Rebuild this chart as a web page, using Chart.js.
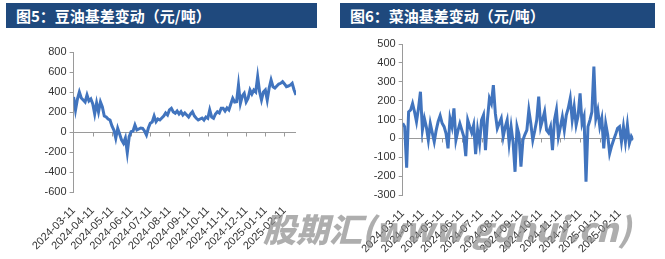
<!DOCTYPE html>
<html>
<head>
<meta charset="utf-8">
<script src="https://cdn.jsdelivr.net/npm/chart.js@4.4.1/dist/chart.umd.min.js"></script>
<style>
  body { margin: 0; width: 665px; height: 259px; background: #fff; position: relative; overflow: hidden; }
  .bar {
    position: absolute; top: 3px; height: 25px; background: #1F497D; color: #fff;
    font: bold 15px "Noto Sans CJK SC", sans-serif; line-height: 25px;
    padding-left: 10px; box-sizing: border-box; white-space: nowrap;
  }
  .panel { position: absolute; top: 0; width: 330px; height: 259px; }
  .wm {
    position: absolute; left: 263px; top: 204px; pointer-events: none;
    font: italic 900 33px "Noto Sans CJK SC", sans-serif; color: rgba(140,140,140,0.7);
    white-space: nowrap;
  }
</style>
</head>
<body>
<div class="panel" style="left:0"><canvas id="soy" width="330" height="259"></canvas></div>
<div class="panel" style="left:335px"><canvas id="rape" width="330" height="259"></canvas></div>
<div class="bar" style="left:6px;width:311px">图5：豆油基差变动（元/吨）</div>
<div class="bar" style="left:340px;width:315px">图6：菜油基差变动（元/吨）</div>
<div class="wm">股期汇(www.gqhui.cn)</div>

<script>
// month tick labels, one every 10 points
const tickLabels = ["2024-03-11","2024-04-11","2024-05-11","2024-06-11","2024-07-11","2024-08-11",
  "2024-09-11","2024-10-11","2024-11-11","2024-12-11","2025-01-11","2025-02-11"];
const pointsPerMonth = 10;

// 豆油基差
const soyValues = [350,220,330,400,340,320,300,370,310,330,
  280,180,290,200,300,250,160,150,130,120,
  60,20,-63,37,-20,-80,-113,-60,-207,-47,
  3,10,70,20,30,40,37,10,-30,40,
  87,100,160,103,130,120,140,160,190,170,
  220,237,200,187,210,180,203,170,190,170,
  150,180,203,160,137,120,130,140,120,150,
  137,220,150,137,180,203,190,237,237,210,
  240,220,280,337,300,303,470,287,360,387,
  300,337,420,380,420,400,553,403,320,400,
  420,320,440,520,453,440,460,480,487,503,
  480,453,460,470,487,420,370];

// 菜油基差
const rapeValues = [80,62,-155,140,150,185,141,88,159,247,
  44,106,60,-9,79,30,-18,44,90,120,
  80,62,26,-53,106,62,159,-9,40,79,
  44,10,-94,97,62,30,71,-83,44,-26,
  97,124,-62,100,212,185,282,132,53,80,
  106,9,60,97,-26,62,-20,-177,62,20,
  -150,-9,20,44,150,79,-9,40,97,221,
  62,100,141,44,30,62,-62,97,150,9,
  60,114,44,124,160,212,97,168,71,120,
  238,79,115,-230,62,97,141,380,106,150,
  62,106,-53,79,20,-80,-40,-9,20,53,
  62,-18,62,-18,71,-26,10,-9];

const soyAxis = { min: -600, max: 800, step: 200 };
const rapeAxis = { min: -300, max: 500, step: 100 };

const lineColor = "#4174BE";
const axisColor = "#9a9a9a";
const labelFont = { family: "Liberation Sans", size: 11 };

// zero line with tick marks, drawn under the series
const zeroAxis = {
  id: "zeroAxis",
  beforeDatasetsDraw(chart) {
    const { ctx, chartArea, scales } = chart;
    const y0 = Math.round(scales.y.getPixelForValue(0)) + 0.5;
    ctx.save();
    ctx.strokeStyle = axisColor;
    ctx.lineWidth = 1;
    ctx.beginPath();
    ctx.moveTo(chartArea.left, y0);
    ctx.lineTo(chartArea.right, y0);
    for (let k = 1; k < tickLabels.length; k++) {
      const x = Math.round(scales.x.getPixelForValue(k)) + 0.5;
      ctx.moveTo(x, y0);
      ctx.lineTo(x, y0 + 4);
    }
    ctx.stroke();
    ctx.restore();
  }
};

function makeChart(id, values, axis, box) {
  new Chart(document.getElementById(id), {
    type: "line",
    data: {
      datasets: [{
        data: values.map((v, i) => ({ x: i / pointsPerMonth, y: v })),
        borderColor: lineColor,
        borderWidth: 3,
        pointRadius: 0,
        tension: 0
      }]
    },
    options: {
      responsive: false,
      animation: false,
      layout: { padding: { top: box.top, right: box.right, bottom: 0, left: 0 } },
      plugins: { legend: { display: false }, tooltip: { enabled: false } },
      scales: {
        x: {
          type: "linear",
          min: 0,
          max: (values.length - 1) / pointsPerMonth,
          afterBuildTicks(s) { s.ticks = tickLabels.map((_, k) => ({ value: k })); },
          ticks: {
            callback: v => tickLabels[v],
            autoSkip: false, minRotation: 45, maxRotation: 45,
            color: "#333", font: labelFont, padding: 4
          },
          grid: { display: false },
          border: { display: false },
          afterFit(s) { s.height = box.xHeight; }
        },
        y: {
          min: axis.min,
          max: axis.max,
          ticks: { stepSize: axis.step, color: "#333", font: labelFont, padding: 3 },
          grid: { drawOnChartArea: false, tickLength: 4, tickColor: axisColor },
          border: { color: axisColor },
          afterFit(s) { s.width = box.yWidth; }
        }
      }
    },
    plugins: [zeroAxis]
  });
}

makeChart("soy", soyValues, soyAxis, { top: 52, right: 34, yWidth: 73.6, xHeight: 67 });
makeChart("rape", rapeValues, rapeAxis, { top: 44, right: 31.7, yWidth: 67.7, xHeight: 64 });
</script>
</body>
</html>
